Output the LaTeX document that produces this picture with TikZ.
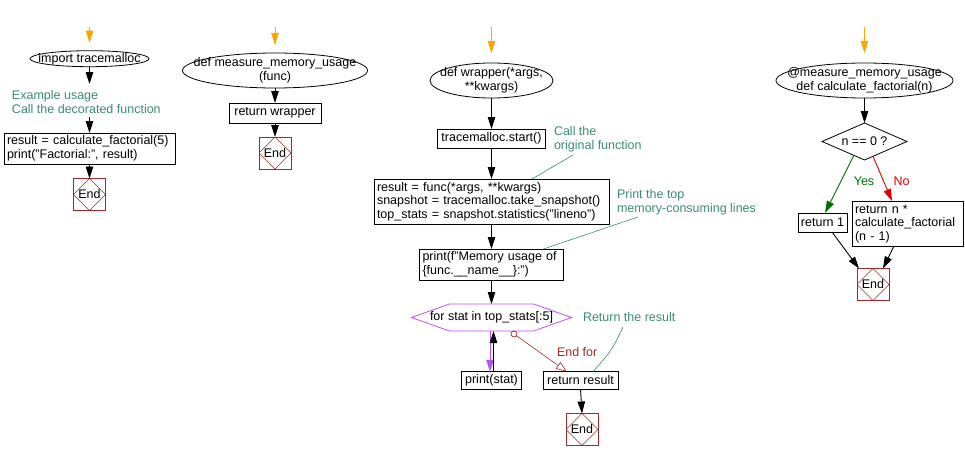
\documentclass[tikz,border=0pt]{standalone}
\usepackage{fontspec}
\setmainfont{Liberation Sans}
\usetikzlibrary{arrows.meta,shapes.geometric,calc}
\definecolor{anngreen}{RGB}{60,140,110}
\definecolor{endred}{RGB}{160,40,40}
\definecolor{loopviolet}{RGB}{185,80,245}
\definecolor{yesgreen}{RGB}{0,110,0}
\definecolor{nored}{RGB}{220,0,0}
\definecolor{startorange}{RGB}{255,165,0}
\begin{document}
\begin{tikzpicture}[x=1pt,y=-1pt,
  font=\fontsize{12.5}{13.5}\selectfont,
  every node/.style={inner sep=0pt, outer sep=0pt},
  box/.style={draw, line width=0.8pt, inner xsep=3pt, inner ysep=1pt, align=left},
  boxone/.style={draw, line width=0.8pt, inner xsep=3pt, inner ysep=1pt, align=center},
  ell/.style={ellipse, draw, line width=0.8pt},
  ann/.style={text=anngreen, align=left},
  annline/.style={draw=anngreen, line width=0.6pt},
  arr/.style={line width=0.9pt, -{Triangle[width=7.5pt,length=12pt]}},
  startarr/.style={draw=startorange, line width=0.9pt, -{Triangle[width=7.5pt,length=12pt]}, startorange},
  endnode/.style={draw=endred, line width=0.8pt, minimum width=32pt, minimum height=32pt,
    path picture={\draw[endred, line width=0.6pt] (path picture bounding box.north) -- (path picture bounding box.east) -- (path picture bounding box.south) -- (path picture bounding box.west) -- cycle;}}
]
\useasboundingbox (0,0) rectangle (965,460);

% ---------- column 1
\node[ell,minimum width=119pt,minimum height=16pt] (e1) at (89.5,58.7) {};
\node[anchor=base] (e1t) at ([yshift=-4.2pt]e1.center) {import tracemalloc};
\coordinate (s1) at (89.5,27);
\coordinate (c1a) at (89.5,84);
\node[ann,anchor=west] (ann0) at (12,102) {Example usage\\Call the decorated function};
\coordinate (c1b) at (89.5,117);
\node[box,text width=165pt,minimum height=31pt] (b1) at (89.5,148.5) {result = calculate\_factorial(5)\\print("Factorial:", result)};
\node[endnode] (end1) at (89.5,194.5) {End};
\draw[startarr] (s1) -- ([yshift=8pt]e1.north);
\draw[arr] (e1.south) -- (c1a);
\draw[arr] (c1b) -- (b1.north);
\draw[arr] (b1.south) -- (end1.north);

% ---------- column 2
\node[ell,minimum width=185pt,minimum height=35pt] (e2) at (275,70.5) {};
\node[align=center] (e2t) at (e2.center) {def measure\_memory\_usage\\(func)};
\node[boxone,minimum width=92pt,minimum height=20pt] (b2) at (275,113) {return wrapper};
\node[endnode] (end2) at (275,153) {End};
\coordinate (s2) at (275,27);
\draw[startarr] (s2) -- ([yshift=8pt]e2.north);
\draw[arr] (e2.south) -- (b2.north);
\draw[arr] (b2.south) -- (end2.north);

% ---------- column 3
\node[ell,minimum width=123pt,minimum height=35pt] (e3) at (491.5,80.5) {};
\node[align=center] (e3t) at (e3.center) {def wrapper(*args,\\**kwargs)};
\node[boxone,minimum width=108pt,minimum height=19pt] (b3) at (491.5,138.5) {tracemalloc.start()};
\node[box,text width=229pt,minimum height=45pt] (b4) at (491.5,201.5) {result = func(*args, **kwargs)\\snapshot = tracemalloc.take\_snapshot()\\top\_stats = snapshot.statistics("lineno")};
\node[box,text width=138pt,minimum height=31pt] (b5) at (491.5,264.5) {print(f"Memory usage of\\\{func.\_\_name\_\_\}:")};
\node[minimum width=160pt,minimum height=27pt] (loop) at (491.5,317.5) {for stat in top\_stats[:5]};
\draw[loopviolet, line width=0.8pt] (loop.west) -- ([xshift=38pt]loop.north west) -- ([xshift=-38pt]loop.north east) -- (loop.east) -- ([xshift=-38pt]loop.south east) -- ([xshift=38pt]loop.south west) -- cycle;
\node[boxone,minimum width=60pt,minimum height=17.5pt] (ps) at (491.5,380.5) {print(stat)};
\node[boxone,minimum width=75pt,minimum height=17.5pt] (rr) at (580.5,380.5) {return result};
\node[endnode] (end3) at (582,429.5) {End};
\coordinate (s3) at (491.5,27);
\draw[startarr] (s3) -- ([yshift=10pt]e3.north);
\draw[arr] (e3.south) -- (b3.north);
\draw[arr] (b3.south) -- (b4.north);
\draw[arr] (b4.south) -- (b5.north);
\draw[arr] (b5.south) -- (loop.north);
\draw[arr, loopviolet] ([xshift=-1.5pt]loop.south) -- ([xshift=-1.5pt]ps.north);
\draw[arr] ([xshift=2pt]ps.north) -- ([xshift=2pt]loop.south);
\node[circle,draw=endred,minimum size=6pt,line width=0.7pt] (lp) at (514,334) {};
\draw[endred, line width=0.6pt, -{Triangle[open,width=8pt,length=11pt]}] (lp) -- ([xshift=-13.5pt]rr.north);
\node[anchor=west,text=endred] (endfor) at (557,352) {End for};
\draw[arr] (rr.south) -- (end3.north);
% annotations
\node[ann,anchor=west] (ann1) at (554,139.5) {Call the\\original function};
\coordinate (a1s) at (573,155);
\draw[annline] (a1s) -- ([xshift=40.5pt]b4.north);
\node[ann,anchor=west] (ann2) at (617,202.5) {Print the top\\memory-consuming lines};
\coordinate (a2s) at (638,217);
\draw[annline] (a2s) -- ([xshift=52pt]b5.north);
\node[ann,anchor=west] (ann3) at (583,317) {Return the result};
\coordinate (a3s) at (623,327);
\draw[annline] (a3s) .. controls (612,350) .. ([xshift=12.5pt]rr.north);

% ---------- column 4
\node[ell,minimum width=177pt,minimum height=35pt] (e4) at (864.5,80.5) {};
\node[align=center] (e4t) at (e4.center) {@measure\_memory\_usage\\def calculate\_factorial(n)};
\node[diamond,draw,line width=0.8pt,minimum width=85pt,minimum height=37pt] (dia) at (864.5,141.5) {};
\node (diat) at (dia.center) {n == 0 ?};
\node[boxone,minimum width=49pt,minimum height=19pt] (r1) at (822.5,222.5) {return 1};
\node[box,text width=105pt,minimum height=45pt] (rn) at (907.5,223.5) {return n *\\calculate\_factorial\\(n - 1)};
\node[endnode] (end4) at (873,284.5) {End};
\coordinate (s4) at (864.5,27);
\draw[startarr] (s4) -- ([yshift=10pt]e4.north);
\draw[arr] (e4.south) -- (dia.north);
\draw[arr, yesgreen] ($(dia.west)!0.75!(dia.south)$) -- ([xshift=2.5pt]r1.north);
\draw[arr, nored] ($(dia.south)!0.2!(dia.east)$) -- ([xshift=-15.5pt]rn.north);
\node[text=yesgreen] (yes) at (864,181) {Yes};
\node[text=nored] (no) at (901.5,181) {No};
\draw[arr] ([xshift=9.5pt]r1.south) -- ([xshift=2pt]end4.north west);
\draw[arr] ([xshift=-13.5pt]rn.south) -- ([xshift=10pt]end4.north);
\end{tikzpicture}
\end{document}
